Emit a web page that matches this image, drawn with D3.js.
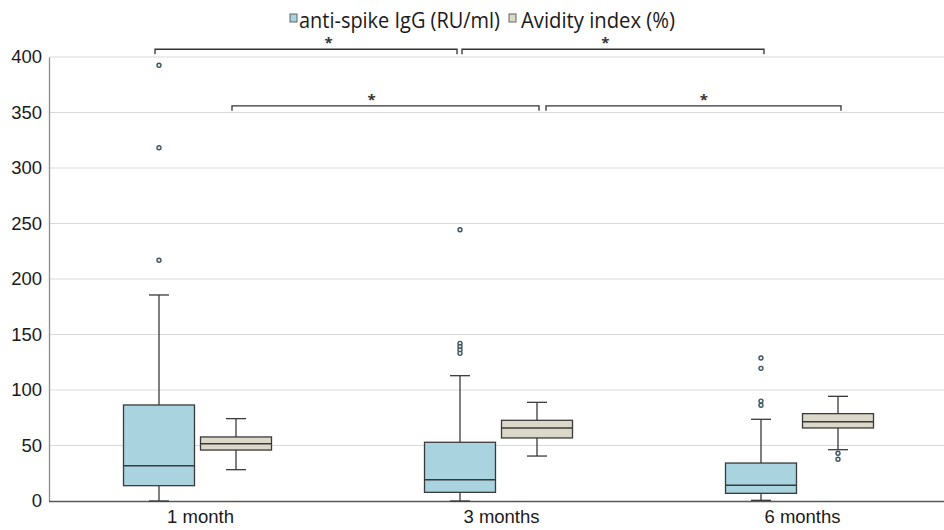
<!DOCTYPE html>
<html><head><meta charset="utf-8">
<script src="https://cdn.jsdelivr.net/npm/d3@7"></script>
<style>
html,body{margin:0;padding:0;background:#fff;}
svg{display:block;font-family:"Open Sans",sans-serif;}
</style></head>
<body>
<svg id="chart" width="944" height="530"></svg>
<script>
// ---- data ----
const categories = ["1 month", "3 months", "6 months"];
const seriesNames = ["anti-spike IgG (RU/ml)", "Avidity index (%)"];
const yTicks = [0, 50, 100, 150, 200, 250, 300, 350, 400];
// [min, q1, median, q3, max] per category
const iggStats = [
  [0, 13.8, 31.8, 86.5, 185.6],
  [0, 7.8, 19.2, 52.9, 112.9],
  [0.6, 6.9, 14.1, 34.2, 73.6]
];
const avidityStats = [
  [28.2, 45.9, 51.6, 57.7, 74.2],
  [40.5, 56.8, 65.8, 72.7, 88.9],
  [46.2, 65.8, 71.5, 78.7, 94.3]
];
const iggOutliers = [
  [392.5, 318.3, 216.9],
  [244.4, 142, 139, 136, 133],
  [128.8, 119.5, 90, 86.2]
];
const avidityOutliers = [
  [],
  [],
  [43, 37.6]
];
// significance comparisons: category pair, series, bracket level (value), label position along bracket
const comparisons = [
  {from: 0, to: 1, series: 0, level: 407, labelAt: 0.575, g1: -4, g2: -3},
  {from: 1, to: 2, series: 0, level: 407, labelAt: 0.475, g1: 2, g2: 3},
  {from: 0, to: 1, series: 1, level: 356, labelAt: 0.455, g1: -4, g2: 2},
  {from: 1, to: 2, series: 1, level: 356, labelAt: 0.535, g1: 9, g2: 3}
];
const colors = ["#a9d3de", "#dcd8c9"];

// ---- layout ----
const svg = d3.select("#chart");
const x = d3.scaleBand().domain(categories).range([47, 950]).padding(0);
const xs = d3.scaleBand().domain([0, 1]).range([-77, 77]).padding(0);
const y = d3.scaleLinear().domain([0, 400]).range([501, 57]);
const boxW = 71, capW = 20;

// gridlines
svg.append("g").selectAll("line").data(yTicks.filter(d => d > 0)).join("line")
  .attr("x1", 49).attr("x2", 944)
  .attr("y1", d => y(d)).attr("y2", d => y(d))
  .attr("stroke", "#d9d9d9").attr("stroke-width", 1);

// y axis
const yAxis = d3.axisLeft(y).tickValues(yTicks).tickSize(0).tickPadding(7);
const gy = svg.append("g").attr("transform", "translate(49,0)").call(yAxis);
gy.select(".domain").attr("stroke", "#8c8c8c").attr("stroke-width", 1.3);
gy.selectAll("text").attr("font-size", 18.5).attr("fill", "#1a1a1a");

// x axis
const xAxis = d3.axisBottom(x).tickSize(0).tickPadding(9);
const gx = svg.append("g").attr("transform", "translate(0,501)").call(xAxis);
gx.select(".domain").attr("d", "M49,0.5H944").attr("stroke", "#595959").attr("stroke-width", 1.3);
gx.selectAll("text").attr("font-size", 18.5).attr("fill", "#1a1a1a").attr("dx", 3);

// boxes
const allStats = [iggStats, avidityStats];
const allOut = [iggOutliers, avidityOutliers];
const stroke = "#3a3a3a";
const centerOf = (ci, si) => x(categories[ci]) + x.bandwidth() / 2 + xs(si) + xs.bandwidth() / 2;
categories.forEach((cat, ci) => {
  [0, 1].forEach(si => {
    const s = allStats[si][ci];
    const cx = centerOf(ci, si);
    const g = svg.append("g");
    // whiskers
    g.append("line").attr("x1", cx).attr("x2", cx).attr("y1", y(s[0])).attr("y2", y(s[1]))
      .attr("stroke", stroke).attr("stroke-width", 1.3);
    g.append("line").attr("x1", cx).attr("x2", cx).attr("y1", y(s[3])).attr("y2", y(s[4]))
      .attr("stroke", stroke).attr("stroke-width", 1.3);
    [s[0], s[4]].forEach(v => g.append("line")
      .attr("x1", cx - capW / 2).attr("x2", cx + capW / 2).attr("y1", y(v)).attr("y2", y(v))
      .attr("stroke", stroke).attr("stroke-width", 1.3));
    // box
    g.append("rect").attr("x", cx - boxW / 2).attr("width", boxW)
      .attr("y", y(s[3])).attr("height", y(s[1]) - y(s[3]))
      .attr("fill", colors[si]).attr("stroke", stroke).attr("stroke-width", 1.3);
    g.append("line").attr("x1", cx - boxW / 2).attr("x2", cx + boxW / 2)
      .attr("y1", y(s[2])).attr("y2", y(s[2])).attr("stroke", stroke).attr("stroke-width", 1.5);
    // outliers
    g.selectAll("circle").data(allOut[si][ci]).join("circle")
      .attr("cx", cx).attr("cy", d => y(d)).attr("r", 2)
      .attr("fill", "#e6eef1").attr("stroke", "#3e5660").attr("stroke-width", 1.4);
  });
});

// significance brackets
comparisons.forEach(c => {
  const a = centerOf(c.from, c.series) + c.g1;
  const b = centerOf(c.to, c.series) + c.g2;
  const yl = y(c.level);
  svg.append("path")
    .attr("d", `M${a},${yl + 5}V${yl}H${b}V${yl + 5}`)
    .attr("fill", "none").attr("stroke", "#333").attr("stroke-width", 1.3);
  svg.append("text").attr("x", a + (b - a) * c.labelAt).attr("y", yl - 1)
    .attr("text-anchor", "middle").attr("font-size", 15).attr("font-weight", "bold")
    .attr("fill", "#333").text("*");
});

// legend
const legend = svg.append("g");
const lg = [{x: 290, tx: 299, w: 201}, {x: 509, tx: 521, w: 154}];
seriesNames.forEach((n, i) => {
  legend.append("rect").attr("x", lg[i].x).attr("y", 14).attr("width", 7).attr("height", 8)
    .attr("fill", colors[i]).attr("stroke", "#555").attr("stroke-width", 0.9);
  legend.append("text").attr("x", lg[i].tx).attr("y", 28).attr("font-size", 21.5)
    .attr("textLength", lg[i].w).attr("lengthAdjust", "spacingAndGlyphs")
    .attr("fill", "#1a1a1a").text(n);
});
</script>
</body></html>
